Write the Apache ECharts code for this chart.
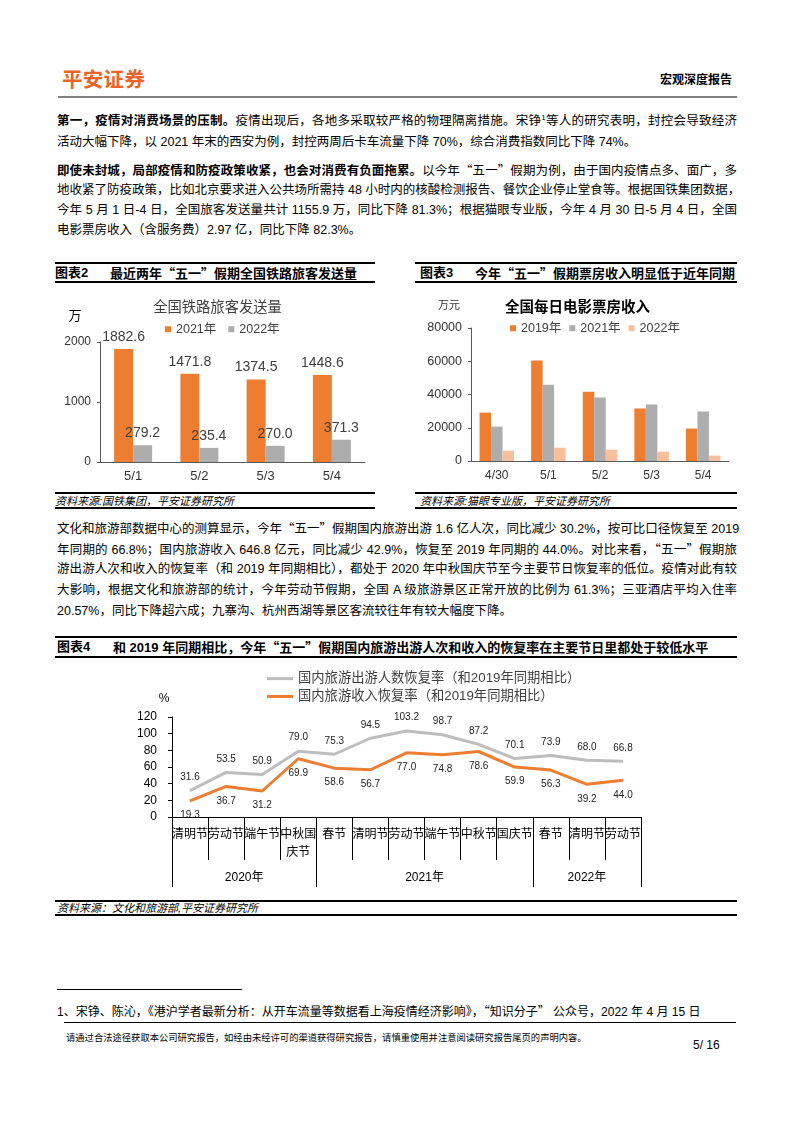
<!DOCTYPE html>
<html><head><meta charset="utf-8">
<script src="https://cdn.jsdelivr.net/npm/echarts@6.0.0/dist/echarts.min.js"></script>
<style>
html,body{margin:0;padding:0;background:#fff;}
#page{position:relative;width:794px;height:1123px;overflow:hidden;background:#fff;font-family:"Liberation Sans",Arial,"Noto Sans CJK SC",sans-serif;color:#000;}
.a{position:absolute;white-space:nowrap;}
.ln{position:absolute;left:57px;width:680px;font-size:12.5px;line-height:20px;height:20px;text-align:justify;text-align-last:justify;white-space:nowrap;}
.ln.last{text-align-last:left;}
.q{font-family:"Noto Sans CJK SC",sans-serif;}
.hr{position:absolute;background:#000;height:1.5px;}
.chart{position:absolute;left:0;top:0;width:794px;height:1123px;}
.hd{font-size:13px;font-weight:bold;line-height:16px;}
.src{font-size:11px;font-style:italic;line-height:14px;}
</style></head>
<body><div id="page">
<div class="a" style="left:62px;top:65px;font-size:20.5px;font-weight:bold;color:#EE6227;line-height:26px;letter-spacing:0.3px;font-family:'Noto Sans CJK SC',sans-serif;">平安证券</div>
<div class="a" style="left:660px;top:72px;font-size:12px;font-weight:bold;line-height:16px;">宏观深度报告</div>
<div class="hr" style="left:58px;top:96px;width:679px;height:2px;background:#808080;"></div>

<div class="ln" style="top:111px;"><b>第一，疫情对消费场景的压制。</b>疫情出现后，各地多采取较严格的物理隔离措施。宋铮<sup style="font-size:8px;line-height:0;">1</sup>等人的研究表明，封控会导致经济</div>
<div class="ln last" style="top:132px;">活动大幅下降，以 2021 年末的西安为例，封控两周后卡车流量下降 70%，综合消费指数同比下降 74%。</div>

<div class="ln" style="top:160px;"><b>即使未封城，局部疫情和防疫政策收紧，也会对消费有负面拖累。</b>以今年<span class="q">“</span>五一<span class="q">”</span>假期为例，由于国内疫情点多、面广，多</div>
<div class="ln" style="top:180px;">地收紧了防疫政策，比如北京要求进入公共场所需持 48 小时内的核酸检测报告、餐饮企业停止堂食等。根据国铁集团数据，</div>
<div class="ln" style="top:200px;">今年 5 月 1 日-4 日，全国旅客发送量共计 1155.9 万，同比下降 81.3%；根据猫眼专业版，今年 4 月 30 日-5 月 4 日，全国</div>
<div class="ln last" style="top:220px;">电影票房收入（含服务费）2.97 亿，同比下降 82.3%。</div>

<!-- figure 2 header -->
<div class="hr" style="left:55px;top:262px;width:320px;"></div>
<div class="a hd" style="left:55px;top:265px;">图表2</div>
<div class="a hd" style="left:110px;top:265px;">最近两年<span class="q">“</span>五一<span class="q">”</span>假期全国铁路旅客发送量</div>
<div class="hr" style="left:55px;top:281px;width:320px;"></div>
<div class="hr" style="left:55px;top:492px;width:320px;"></div>
<div class="a src" style="left:55px;top:494px;">资料来源:国铁集团，平安证券研究所</div>
<div class="hr" style="left:55px;top:507px;width:320px;"></div>

<!-- figure 3 header -->
<div class="hr" style="left:415px;top:262px;width:322px;"></div>
<div class="a hd" style="left:420px;top:265px;">图表3</div>
<div class="a hd" style="left:475px;top:265px;">今年<span class="q">“</span>五一<span class="q">”</span>假期票房收入明显低于近年同期</div>
<div class="hr" style="left:415px;top:281px;width:322px;"></div>
<div class="hr" style="left:415px;top:492px;width:322px;"></div>
<div class="a src" style="left:420px;top:494px;">资料来源:猫眼专业版，平安证券研究所</div>
<div class="hr" style="left:415px;top:507px;width:322px;"></div>

<div class="ln" style="top:518px;">文化和旅游部数据中心的测算显示，今年<span class="q">“</span>五一<span class="q">”</span>假期国内旅游出游 1.6 亿人次，同比减少 30.2%，按可比口径恢复至 2019</div>
<div class="ln" style="top:538.5px;">年同期的 66.8%；国内旅游收入 646.8 亿元，同比减少 42.9%，恢复至 2019 年同期的 44.0%。对比来看，<span class="q">“</span>五一<span class="q">”</span>假期旅</div>
<div class="ln" style="top:559px;">游出游人次和收入的恢复率（和 2019 年同期相比），都处于 2020 年中秋国庆节至今主要节日恢复率的低位。疫情对此有较</div>
<div class="ln" style="top:580px;">大影响，根据文化和旅游部的统计，今年劳动节假期，全国 A 级旅游景区正常开放的比例为 61.3%；三亚酒店平均入住率</div>
<div class="ln last" style="top:601px;">20.57%，同比下降超六成；九寨沟、杭州西湖等景区客流较往年有较大幅度下降。</div>

<!-- figure 4 header -->
<div class="hr" style="left:55px;top:636px;width:682px;"></div>
<div class="a hd" style="left:57px;top:639px;">图表4</div>
<div class="a hd" style="left:113px;top:639px;">和 2019 年同期相比，今年<span class="q">“</span>五一<span class="q">”</span>假期国内旅游出游人次和收入的恢复率在主要节日里都处于较低水平</div>
<div class="hr" style="left:55px;top:656px;width:682px;"></div>
<div class="hr" style="left:55px;top:900px;width:682px;"></div>
<div class="a src" style="left:57px;top:901px;">资料来源：文化和旅游部,平安证券研究所</div>
<div class="hr" style="left:55px;top:914px;width:682px;"></div>

<div class="hr" style="left:57px;top:989px;width:185px;height:1px;"></div>
<div class="a" style="left:57px;top:1003px;font-size:12px;line-height:16px;">1、宋铮、陈沁，《港沪学者最新分析：从开车流量等数据看上海疫情经济影响》，<span class="q">“</span>知识分子<span class="q">”</span> 公众号，2022 年 4 月 15 日</div>
<div class="hr" style="left:64px;top:1022px;width:672px;height:1px;"></div>
<div class="a" style="left:66px;top:1032px;font-size:9.3px;line-height:12px;">请通过合法途径获取本公司研究报告，如经由未经许可的渠道获得研究报告，请慎重使用并注意阅读研究报告尾页的声明内容。</div>
<div class="a" style="left:693px;top:1037px;font-size:12px;line-height:16px;">5/ 16</div>

<div id="c2" class="chart"></div>
<div id="c3" class="chart"></div>
<div id="c4" class="chart"></div>
</div>
<script>
// ---- Data ----
const railDates = ['5/1', '5/2', '5/3', '5/4'];
const rail2021 = [1882.6, 1471.8, 1374.5, 1448.6];
const rail2022 = [279.2, 235.4, 270.0, 371.3];

const boxDates = ['4/30', '5/1', '5/2', '5/3', '5/4'];
const box2019 = [29100, 60400, 41600, 31600, 19500];
const box2021 = [20700, 45900, 38200, 34000, 29800];
const box2022 = [6200, 8000, 6800, 5600, 3200];

const holidays = ['清明节', '劳动节', '端午节', '中秋国庆节', '春节', '清明节', '劳动节', '端午节', '中秋节', '国庆节', '春节', '清明节', '劳动节'];
const yearLabels = ['2020年', '2021年', '2022年'];
const yearCounts = [4, 6, 3];
const tripRecovery = [31.6, 53.5, 50.9, 79.0, 75.3, 94.5, 103.2, 98.7, 87.2, 70.1, 73.9, 68.0, 66.8];
const revenueRecovery = [19.3, 36.7, 31.2, 69.9, 58.6, 56.7, 77.0, 74.8, 78.6, 59.9, 56.3, 39.2, 44.0];

const FF = '"Liberation Sans", Arial, "Noto Sans CJK SC", sans-serif';
const ORANGE = '#ED7D31', GRAY = '#ADADAD', PEACH = '#F7BF9B', LGRAY = '#BDBDBD';
const fmt1 = p => Number(p.value).toFixed(1);
const plain = v => String(v);

// ---- Chart 2 ----
const c2 = echarts.init(document.getElementById('c2'), null, {renderer: 'canvas'});
c2.setOption({
  animation: false,
  textStyle: {fontFamily: FF},
  graphic: [
    {type: 'text', x: 217.5, y: 308, style: {text: '全国铁路旅客发送量', align: 'center', verticalAlign: 'middle', font: '14.3px ' + FF, fill: '#404040'}},
    {type: 'text', x: 75, y: 316, style: {text: '万', align: 'center', verticalAlign: 'middle', font: '13px ' + FF, fill: '#000'}}
  ],
  legend: {left: 165, top: 323, padding: 0, itemWidth: 6, itemHeight: 6, itemGap: 12, icon: 'rect',
    textStyle: {fontSize: 12.5, color: '#404040', fontFamily: FF}, data: ['2021年', '2022年']},
  grid: {left: 100, right: 429, top: 342, bottom: 661, containLabel: false},
  xAxis: {type: 'category', data: railDates,
    axisLine: {lineStyle: {color: '#595959'}}, axisTick: {length: 4, lineStyle: {color: '#595959'}},
    axisLabel: {fontSize: 13, color: '#333', margin: 8}},
  yAxis: {type: 'value', min: 0, max: 2000, interval: 1000,
    axisLine: {show: true, lineStyle: {color: '#595959'}}, axisTick: {show: true, length: 3, lineStyle: {color: '#595959'}},
    splitLine: {show: false}, axisLabel: {fontSize: 12, color: '#333', margin: 9, formatter: plain}},
  series: [
    {name: '2021年', type: 'bar', data: rail2021, barWidth: 19, barGap: '0%', itemStyle: {color: ORANGE},
      label: {show: true, position: 'top', distance: 5, fontSize: 14, color: '#404040', formatter: fmt1}},
    {name: '2022年', type: 'bar', data: rail2022, barWidth: 19, barGap: '0%', itemStyle: {color: GRAY},
      label: {show: true, position: 'top', distance: 5, fontSize: 14, color: '#404040', formatter: fmt1}}
  ]
});

// ---- Chart 3 ----
const c3 = echarts.init(document.getElementById('c3'), null, {renderer: 'canvas'});
c3.setOption({
  animation: false,
  textStyle: {fontFamily: FF},
  graphic: [
    {type: 'text', x: 577.5, y: 308, style: {text: '全国每日电影票房收入', align: 'center', verticalAlign: 'middle', font: 'bold 14.5px ' + FF, fill: '#000'}},
    {type: 'text', x: 449, y: 306, style: {text: '万元', align: 'center', verticalAlign: 'middle', font: '11px ' + FF, fill: '#333'}}
  ],
  legend: {left: 510, top: 322, padding: 0, itemWidth: 6, itemHeight: 6, itemGap: 8, icon: 'rect',
    textStyle: {fontSize: 12.5, color: '#404040', fontFamily: FF}, data: ['2019年', '2021年', '2022年']},
  grid: {left: 471, right: 65, top: 328, bottom: 662, containLabel: false},
  xAxis: {type: 'category', data: boxDates,
    axisLine: {lineStyle: {color: '#595959'}}, axisTick: {length: 4, lineStyle: {color: '#595959'}},
    axisLabel: {fontSize: 12, color: '#333', margin: 9}},
  yAxis: {type: 'value', min: 0, max: 80000, interval: 20000,
    axisLine: {show: true, lineStyle: {color: '#595959'}}, axisTick: {show: true, length: 3, lineStyle: {color: '#595959'}},
    splitLine: {show: false}, axisLabel: {fontSize: 12.5, color: '#333', margin: 9, formatter: plain}},
  series: [
    {name: '2019年', type: 'bar', data: box2019, barWidth: 11.5, barGap: '0%', itemStyle: {color: ORANGE}},
    {name: '2021年', type: 'bar', data: box2021, barWidth: 11.5, barGap: '0%', itemStyle: {color: GRAY}},
    {name: '2022年', type: 'bar', data: box2022, barWidth: 11.5, barGap: '0%', itemStyle: {color: PEACH}}
  ]
});

// ---- Chart 4 ----
const bounds = [0];
yearCounts.forEach(c => bounds.push(bounds[bounds.length - 1] + c));
const centers = yearCounts.map((c, i) => bounds[i] + c / 2);
const c4 = echarts.init(document.getElementById('c4'), null, {renderer: 'canvas'});
c4.setOption({
  animation: false,
  textStyle: {fontFamily: FF},
  graphic: [
    {type: 'text', x: 164, y: 699, style: {text: '%', align: 'center', verticalAlign: 'middle', font: '12px ' + FF, fill: '#000'}}
  ],
  legend: {orient: 'vertical', left: 267, top: 672, padding: 0, itemWidth: 26, itemHeight: 3, itemGap: 4.5, icon: 'rect',
    textStyle: {fontSize: 13.3, color: '#404040', fontFamily: FF},
    data: ['国内旅游出游人数恢复率（和2019年同期相比）', '国内旅游收入恢复率（和2019年同期相比）']},
  grid: {left: 172, right: 153, top: 717, bottom: 306, containLabel: false},
  xAxis: [
    {type: 'category', data: holidays, boundaryGap: true,
      axisLine: {lineStyle: {color: '#000'}},
      axisTick: {show: true, interval: 0, length: 43, lineStyle: {color: '#000', width: 1}},
      axisLabel: {interval: 0, fontSize: 12, color: '#000', margin: 9, lineHeight: 18,
        formatter: v => v.length > 3 ? v.slice(0, 3) + '\n' + v.slice(3) : v}},
    {type: 'value', min: 0, max: holidays.length, position: 'bottom', offset: 43,
      axisLine: {show: false}, splitLine: {show: false},
      axisTick: {show: true, length: 27, customValues: bounds, lineStyle: {color: '#000'}},
      axisLabel: {show: true, customValues: centers, fontSize: 12, color: '#000', margin: 12,
        formatter: v => yearLabels[centers.indexOf(v)]}}
  ],
  yAxis: {type: 'value', min: 0, max: 120, interval: 20,
    axisLine: {show: true, lineStyle: {color: '#000'}}, axisTick: {show: true, length: 4, lineStyle: {color: '#000'}},
    splitLine: {show: false}, axisLabel: {fontSize: 12, color: '#000', margin: 15}},
  series: [
    {name: '国内旅游出游人数恢复率（和2019年同期相比）', type: 'line', xAxisIndex: 0, data: tripRecovery,
      color: LGRAY, symbol: 'circle', symbolSize: 1, itemStyle: {color: LGRAY}, lineStyle: {color: LGRAY, width: 3},
      label: {show: true, position: 'top', distance: 8, fontSize: 10, color: '#222', formatter: fmt1}},
    {name: '国内旅游收入恢复率（和2019年同期相比）', type: 'line', xAxisIndex: 0, data: revenueRecovery,
      color: ORANGE, symbol: 'circle', symbolSize: 1, itemStyle: {color: ORANGE}, lineStyle: {color: ORANGE, width: 3},
      label: {show: true, position: 'bottom', distance: 9, fontSize: 10, color: '#222', formatter: fmt1}}
  ]
});
</script>
</body></html>
